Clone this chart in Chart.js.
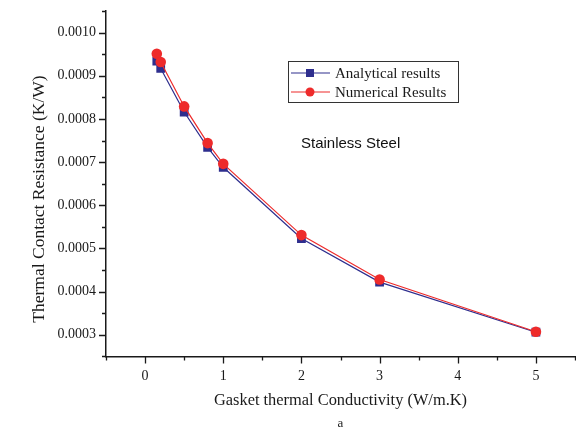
<!DOCTYPE html>
<html>
<head>
<meta charset="utf-8">
<script src="https://cdn.jsdelivr.net/npm/chart.js@4"></script>
<style>
  html, body { margin: 0; padding: 0; background: #fff; overflow: hidden; }
  #wrap { width: 576px; height: 434px; }
  canvas { display: block; }
</style>
</head>
<body>
<div id="wrap"><canvas id="canvas" width="576" height="434"></canvas></div>
<script>
// data
const conductivity = [0.15, 0.2, 0.5, 0.8, 1, 2, 3, 5];
const analytical = [0.000934, 0.000917, 0.000816, 0.000734, 0.000688, 0.000523, 0.000422, 0.000306];
const numerical = [0.000951, 0.000932, 0.000829, 0.000744, 0.000696, 0.000531, 0.000428, 0.000307];
const xTickLabels = [0, 1, 2, 3, 4, 5];
const yTickLabels = [0.0003, 0.0004, 0.0005, 0.0006, 0.0007, 0.0008, 0.0009, 0.0010];

const serif = '"Liberation Serif", "Times New Roman", serif';
const ink = '#1a1a1a';
const blue = '#2e2e8e';
const red = '#ee2b2b';

const isMajor = (v, list) => list.some(t => Math.abs(t - v) < 1e-9);

// drop the label overhang padding so the axes run to the figure edges
function noPadding(scale) {
  scale.paddingTop = 0;
  scale.paddingBottom = 0;
  scale.paddingLeft = 0;
  scale.paddingRight = 0;
}

// small tick marks (major + minor) drawn outward from both axes
const tickMarks = {
  id: 'tickMarks',
  afterDraw(chart) {
    const c = chart.ctx;
    const xs = chart.scales.x, ys = chart.scales.y;
    c.save();
    c.strokeStyle = ink;
    c.lineWidth = 1.3;
    c.beginPath();
    xs.ticks.forEach(t => {
      const px = Math.round(xs.getPixelForValue(t.value)) + 0.5;
      const len = isMajor(t.value, xTickLabels) ? 7 : 4;
      c.moveTo(px, ys.bottom);
      c.lineTo(px, ys.bottom + len);
    });
    ys.ticks.forEach(t => {
      const py = Math.round(ys.getPixelForValue(t.value)) + 0.5;
      const len = isMajor(t.value, yTickLabels) ? 7 : 4;
      c.moveTo(xs.left, py);
      c.lineTo(xs.left - len, py);
    });
    c.stroke();

    // y axis title, sitting a little below the middle as in the original
    c.translate(39.5, 199);
    c.rotate(-Math.PI / 2);
    c.fillStyle = ink;
    c.font = '17.5px ' + serif;
    c.textAlign = 'center';
    c.textBaseline = 'middle';
    c.fillText('Thermal Contact Resistance (K/W)', 0, 0);
    c.restore();
  }
};

// boxed legend + annotation inside the plot
const boxLegend = {
  id: 'boxLegend',
  afterDraw(chart) {
    const c = chart.ctx;
    c.save();
    c.strokeStyle = '#333';
    c.lineWidth = 1;
    c.strokeRect(288.5, 61.5, 170, 41);
    const rows = [
      { ds: chart.data.datasets[1], y: 73 },
      { ds: chart.data.datasets[0], y: 92 }
    ];
    rows.forEach(r => {
      c.strokeStyle = r.ds.borderColor;
      c.lineWidth = 1.2;
      c.beginPath();
      c.moveTo(291, r.y);
      c.lineTo(330, r.y);
      c.stroke();
      c.fillStyle = r.ds.backgroundColor;
      if (r.ds.pointStyle === 'rect') {
        c.fillRect(306, r.y - 4, 8, 8);
      } else {
        c.beginPath();
        c.arc(310, r.y, 4.5, 0, Math.PI * 2);
        c.fill();
      }
      c.fillStyle = ink;
      c.font = '15px ' + serif;
      c.textBaseline = 'middle';
      c.fillText(r.ds.label, 335, r.y + 1);
    });
    c.font = '15px "Liberation Sans", Arial, sans-serif';
    c.fillStyle = '#111';
    c.textBaseline = 'middle';
    c.fillText('Stainless Steel', 301, 144);
    c.restore();
  }
};

const ctx = document.getElementById('canvas').getContext('2d');
const myChart = new Chart(ctx, {
  type: 'line',
  data: {
    labels: conductivity,
    datasets: [{
      label: 'Numerical Results',
      data: conductivity.map((x, i) => ({ x: x, y: numerical[i] })),
      borderColor: red,
      backgroundColor: red,
      borderWidth: 1.2,
      pointStyle: 'circle',
      pointRadius: 5.3,
      pointBorderWidth: 0,
      order: 0
    }, {
      label: 'Analytical results',
      data: conductivity.map((x, i) => ({ x: x, y: analytical[i] })),
      borderColor: blue,
      backgroundColor: blue,
      borderWidth: 1.2,
      pointStyle: 'rect',
      pointRadius: 6.2,
      pointBorderWidth: 0,
      order: 1
    }]
  },
  plugins: [tickMarks, boxLegend],
  options: {
    responsive: false,
    animation: false,
    layout: { autoPadding: false, padding: { top: 11, right: 1, left: 0, bottom: 0 } },
    plugins: {
      legend: { display: false },
      tooltip: { enabled: false },
      title: {
        display: true,
        text: 'a',
        position: 'bottom',
        fullSize: false,
        color: ink,
        font: { family: serif, size: 13, weight: 'normal' },
        padding: { top: 0, bottom: 3 }
      }
    },
    scales: {
      x: {
        type: 'linear',
        min: -0.5,
        max: 5.5,
        afterFit(scale) { scale.height = 59; noPadding(scale); },
        grid: { display: true, drawOnChartArea: false, drawTicks: false },
        border: { display: true, color: ink, width: 1.5 },
        ticks: {
          stepSize: 0.5,
          autoSkip: false,
          maxRotation: 0,
          padding: 12,
          color: ink,
          font: { family: serif, size: 14 },
          callback: v => isMajor(v, xTickLabels) ? String(Math.round(v)) : ''
        },
        title: {
          display: true,
          text: 'Gasket thermal Conductivity (W/m.K)',
          color: ink,
          font: { family: serif, size: 16.4 },
          padding: { top: 0, bottom: 5 }
        }
      },
      y: {
        type: 'linear',
        min: 0.00025,
        max: 0.00105,
        afterFit(scale) { scale.width = 106; noPadding(scale); },
        grid: { display: true, drawOnChartArea: false, drawTicks: false },
        border: { display: true, color: ink, width: 1.5 },
        ticks: {
          stepSize: 0.00005,
          maxTicksLimit: 100,
          autoSkip: false,
          padding: 10,
          color: ink,
          font: { family: serif, size: 14 },
          callback: v => isMajor(v, yTickLabels) ? v.toFixed(4) : ''
        },
        title: { display: false }
      }
    }
  }
});
</script>
</body>
</html>
